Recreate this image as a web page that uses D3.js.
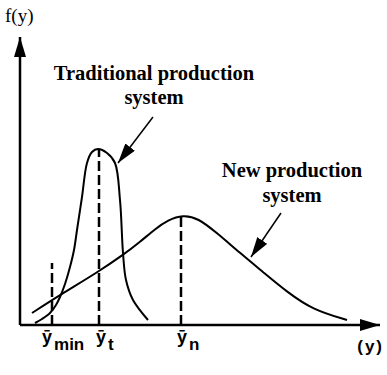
<!DOCTYPE html>
<meta charset="utf-8">
<head>
    <script src="https://d3js.org/d3.v7.min.js"></script>
    <style>
        body { margin: 0; background: #fff; }
        .serif { font-family: "Liberation Serif", "Times New Roman", serif; font-weight: bold; fill: #000; }
        .sans { font-family: "Liberation Sans", Arial, sans-serif; font-weight: bold; fill: #000; }
    </style>
</head>
<body>
<div id="my_dataviz"></div>
</body>

<script>

    // traditional production system: output y vs density f(y)
    var tradY = [1.5, 2.2, 3.0, 3.6, 4.0, 4.5, 5.0, 5.4, 5.7, 6.2, 6.7, 7.2, 7.8, 8.7, 9.5, 10.0, 10.3, 10.6, 11.3, 12.8];
    var tradF = [0.2, 0.6, 1.2, 2.0, 2.8, 4.1, 5.8, 7.5, 9.5, 12.8, 16.2, 17.3, 17.6, 17.2, 16.2, 12.5, 7.2, 4.5, 2.5, 0.5];

    // new production system
    var newY = [1.2, 4.0, 7.8, 10.3, 12.0, 13.5, 14.8, 16.3, 17.8, 19.7, 22.0, 24.3, 26.7, 29.3, 32.7];
    var newF = [1.2, 3.0, 5.3, 7.0, 8.3, 9.6, 10.5, 11.0, 10.7, 9.2, 7.2, 5.3, 3.3, 1.5, 0.5];

    // means (dashed lines): x position and height
    var meanNames = ["min", "t", "n"];
    var meanY = [3.2, 7.9, 16.1];
    var meanTop = [6.2, 17.6, 11.0];

    // annotation labels
    var tradLabel = ["Traditional production", "system"];
    var newLabel = ["New production", "system"];

    var width = 387, height = 375;

    var svg = d3.select("#my_dataviz")
        .append("svg")
        .attr("width", width)
        .attr("height", height);

    var x = d3.scaleLinear().domain([0, 36]).range([20, 380]);
    var y = d3.scaleLinear().domain([0, 29]).range([325, 35]);

    // arrowhead
    svg.append("defs").append("marker")
        .attr("id", "head")
        .attr("viewBox", "0 0 20 12")
        .attr("refX", 20).attr("refY", 6)
        .attr("markerWidth", 20).attr("markerHeight", 12)
        .attr("markerUnits", "userSpaceOnUse")
        .attr("orient", "auto")
        .append("path")
        .attr("d", "M0,0 L20,6 L0,12 Z")
        .attr("fill", "#000");

    // axes
    svg.append("line")
        .attr("x1", x(0)).attr("y1", y(0))
        .attr("x2", x(36)).attr("y2", y(0))
        .attr("stroke", "#000").attr("stroke-width", 2.5)
        .attr("marker-end", "url(#head)");
    svg.append("line")
        .attr("x1", x(0)).attr("y1", y(0))
        .attr("x2", x(0)).attr("y2", y(28.8))
        .attr("stroke", "#000").attr("stroke-width", 2.5)
        .attr("marker-end", "url(#head)");

    var line = d3.line()
        .x(function(d) { return x(d[0]); })
        .y(function(d) { return y(d[1]); })
        .curve(d3.curveCatmullRom.alpha(0.5));

    svg.append("path")
        .datum(d3.zip(tradY, tradF))
        .attr("d", line)
        .attr("fill", "none").attr("stroke", "#000").attr("stroke-width", 2);

    svg.append("path")
        .datum(d3.zip(newY, newF))
        .attr("d", line.curve(d3.curveBasis))
        .attr("fill", "none").attr("stroke", "#000").attr("stroke-width", 2);

    // dashed mean lines
    svg.selectAll(".mean")
        .data(d3.range(meanY.length))
        .enter().append("line")
        .attr("x1", function(i) { return x(meanY[i]); })
        .attr("x2", function(i) { return x(meanY[i]); })
        .attr("y1", y(0))
        .attr("y2", function(i) { return y(meanTop[i]); })
        .attr("stroke", "#000").attr("stroke-width", 2.5)
        .attr("stroke-dasharray", "10,4");

    // mean labels
    var offs = [-5, 2, 1];
    var ml = svg.selectAll(".ml")
        .data(d3.range(meanY.length))
        .enter().append("text")
        .attr("class", "sans")
        .attr("x", function(i) { return x(meanY[i]) + offs[i]; })
        .attr("y", 343)
        .style("font-size", "18px")
        .attr("text-anchor", "start");
    ml.append("tspan").attr("dx", -5).text("ȳ");
    ml.append("tspan").attr("dy", 7).attr("dx", 2).style("font-size", "17px").text(function(i) { return meanNames[i]; });

    svg.append("text").attr("class", "sans")
        .attr("x", 384).attr("y", 352)
        .attr("text-anchor", "end")
        .style("font-size", "17px").style("letter-spacing", "2px")
        .text("(y)");

    svg.append("text").attr("class", "serif")
        .attr("x", 5).attr("y", 22)
        .style("font-size", "19px").style("font-weight", "normal")
        .text("f(y)");

    // annotation texts
    svg.selectAll(".tl")
        .data(tradLabel)
        .enter().append("text")
        .attr("class", "serif")
        .attr("x", 154)
        .attr("y", function(d, i) { return 80 + i * 24; })
        .attr("text-anchor", "middle")
        .style("font-size", "20.5px")
        .text(function(d) { return d; });

    svg.selectAll(".nl")
        .data(newLabel)
        .enter().append("text")
        .attr("class", "serif")
        .attr("x", 292)
        .attr("y", function(d, i) { return 177 + i * 25; })
        .attr("text-anchor", "middle")
        .style("font-size", "20.5px")
        .text(function(d) { return d; });

    // pointer arrows
    svg.append("line")
        .attr("x1", 153).attr("y1", 117).attr("x2", 118).attr("y2", 163)
        .attr("stroke", "#000").attr("stroke-width", 1.5)
        .attr("marker-end", "url(#head)");
    svg.append("line")
        .attr("x1", 281).attr("y1", 213).attr("x2", 251).attr("y2", 257)
        .attr("stroke", "#000").attr("stroke-width", 1.5)
        .attr("marker-end", "url(#head)");

</script>
